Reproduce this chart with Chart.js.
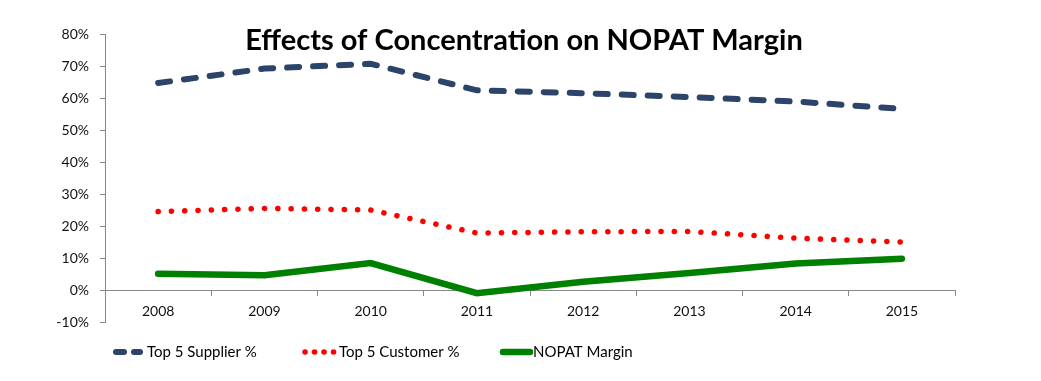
<!DOCTYPE html>
<html><head><meta charset="utf-8">
<script src="https://cdn.jsdelivr.net/npm/chart.js@4.4.0/dist/chart.umd.min.js"></script>
<style>html,body{margin:0;padding:0;background:#fff}#wrap{width:1041px;height:381px}</style>
</head><body><div id="wrap"><canvas id="c" width="1041" height="381"></canvas></div>
<script>
const categories = ['2008','2009','2010','2011','2012','2013','2014','2015'];
const supplierPct = [64.7, 69.2, 70.7, 62.4, 61.5, 60.3, 58.9, 56.6];
const customerPct = [24.5, 25.5, 25.0, 17.8, 18.2, 18.3, 16.2, 15.0];
const nopatMargin = [5.1, 4.6, 8.4, -1.0, 2.6, 5.3, 8.3, 9.8];
const yTicks = [-10, 0, 10, 20, 30, 40, 50, 60, 70, 80];
const titleText = 'Effects of Concentration on NOPAT Margin';
const seriesNames = ['Top 5 Supplier %', 'Top 5 Customer %', 'NOPAT Margin'];

const FONT = 'Lato, "Open Sans", sans-serif';

const titlePlugin = {
  id: 'customTitle',
  afterDraw(chart) {
    const ctx = chart.ctx;
    ctx.save();
    ctx.font = 'bold 29px ' + FONT;
    ctx.fillStyle = '#000';
    ctx.textAlign = 'center';
    ctx.textBaseline = 'middle';
    ctx.fillText(titleText, 524, 41);
    ctx.restore();
  }
};

const legendPlugin = {
  id: 'customLegend',
  afterDraw(chart) {
    const ctx = chart.ctx;
    const items = [
      { segs: [[116, 124], [134, 140]], textX: 147 },
      { segs: [[305, 305.1], [314.5, 314.6], [324, 324.1], [333.5, 333.6]], textX: 339 },
      { segs: [[503, 530]], textX: 533 }
    ];
    const y = 352;
    chart.data.datasets.forEach((ds, i) => {
      const it = items[i];
      ctx.save();
      ctx.strokeStyle = ds.borderColor;
      ctx.lineWidth = ds.borderWidth;
      ctx.lineCap = 'round';
      it.segs.forEach(s => {
        ctx.beginPath();
        ctx.moveTo(s[0], y);
        ctx.lineTo(s[1], y);
        ctx.stroke();
      });
      ctx.restore();
      ctx.save();
      ctx.font = '15px ' + FONT;
      ctx.fillStyle = '#000';
      ctx.textBaseline = 'middle';
      ctx.fillText(ds.label, it.textX, y);
      ctx.restore();
    });
  }
};

new Chart(document.getElementById('c'), {
  type: 'line',
  data: {
    labels: categories,
    datasets: [
      { label: seriesNames[0], data: supplierPct, borderColor: '#2C4469', borderWidth: 6,
        borderDash: [12, 14], borderCapStyle: 'round', pointRadius: 0, tension: 0, fill: false },
      { label: seriesNames[1], data: customerPct, borderColor: '#FF0000', borderWidth: 5.5,
        borderDash: [0.1, 13.2], borderCapStyle: 'round', pointRadius: 0, tension: 0, fill: false },
      { label: seriesNames[2], data: nopatMargin, borderColor: '#008000', borderWidth: 6.5,
        borderCapStyle: 'round', pointRadius: 0, tension: 0, fill: false }
    ]
  },
  options: {
    responsive: false,
    animation: false,
    devicePixelRatio: 1,
    layout: { padding: { left: 0, right: 86, top: 34, bottom: 59 } },
    plugins: { legend: { display: false }, title: { display: false }, tooltip: { enabled: false } },
    scales: {
      x: {
        position: { y: 0 },
        offset: true,
        grid: { offset: true, drawOnChartArea: false, tickLength: 5, color: '#888', tickWidth: 1 },
        border: { display: true, color: '#888', width: 1 },
        ticks: { color: '#111', font: { family: FONT, size: 14 }, padding: 8, maxRotation: 0 }
      },
      y: {
        min: -10, max: 80,
        afterBuildTicks(scale) { scale.ticks = yTicks.map(v => ({ value: v })); },
        afterFit(scale) { scale.width = 105; },
        grid: { drawOnChartArea: false, tickLength: 5, color: '#888' },
        border: { display: true, color: '#888', width: 1 },
        ticks: { color: '#111', font: { family: FONT, size: 14 }, padding: 11,
          callback: v => v + '%' }
      }
    }
  },
  plugins: [titlePlugin, legendPlugin]
});
</script></body></html>
